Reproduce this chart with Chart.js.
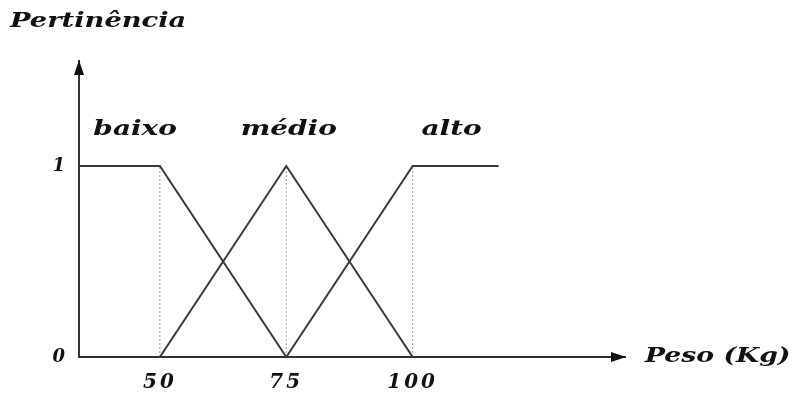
<!DOCTYPE html>
<html>
<head>
<meta charset="utf-8">
<script src="https://cdn.jsdelivr.net/npm/chart.js@4/dist/chart.umd.min.js"></script>
<style>
html,body{margin:0;padding:0;background:#fff;}
#wrap{width:792px;height:394px;position:relative;}
</style>
</head>
<body>
<div id="wrap"><canvas id="c" width="792" height="394"></canvas></div>
<script>
// Data
const xTicks = [50, 75, 100];
const yTicks = [0, 1];
const baixoX = [34, 50, 75];
const baixoY = [1, 1, 0];
const medioX = [50, 75, 100];
const medioY = [0, 1, 0];
const altoX = [75, 100, 117];
const altoY = [0, 1, 1];
const categories = ['baixo', 'médio', 'alto'];
const labelAt = [[45.1, 1.19], [75.5, 1.19], [107.7, 1.19]];
const xTitle = 'Peso (Kg)';
const yTitle = 'Pertinência';

const FONT = '"DejaVu Serif", serif';
const pts = (xs, ys) => xs.map((x, i) => ({x: x, y: ys[i]}));
const lineStyle = {borderColor: '#3a3a3a', borderWidth: 2, pointRadius: 0, fill: false, tension: 0};
const guide = x => ({data: [{x: x, y: 0}, {x: x, y: 1}], borderColor: '#9a9a9a', borderWidth: 1, borderDash: [2, 2], pointRadius: 0, fill: false});

const spacing = {
  id: 'spacing',
  beforeDraw(chart) { chart.ctx.letterSpacing = '3px'; }
};

function wideText(ctx, text, x, y, align, sx) {
  ctx.save();
  ctx.translate(x, y);
  ctx.scale(sx, 1);
  ctx.textAlign = align;
  ctx.fillText(text, 0, 0);
  ctx.restore();
}

const decor = {
  id: 'decor',
  afterDraw(chart) {
    const ctx = chart.ctx, a = chart.chartArea;
    const xs = chart.scales.x, ys = chart.scales.y;
    ctx.save();
    ctx.fillStyle = '#111';
    // arrows
    ctx.beginPath();
    ctx.moveTo(a.left, a.top - 1);
    ctx.lineTo(a.left - 5, a.top + 14);
    ctx.lineTo(a.left + 5, a.top + 14);
    ctx.closePath(); ctx.fill();
    ctx.beginPath();
    ctx.moveTo(a.right + 1, a.bottom);
    ctx.lineTo(a.right - 14, a.bottom - 5);
    ctx.lineTo(a.right - 14, a.bottom + 5);
    ctx.closePath(); ctx.fill();
    // category labels
    ctx.font = 'italic bold 21px ' + FONT;
    ctx.letterSpacing = '0px';
    ctx.textBaseline = 'middle';
    categories.forEach((c, i) => {
      wideText(ctx, c, xs.getPixelForValue(labelAt[i][0]), ys.getPixelForValue(labelAt[i][1]), 'center', 1.33);
    });
    // titles
    wideText(ctx, yTitle, 10, 22, 'left', 1.3);
    wideText(ctx, xTitle, 645, 357, 'left', 1.27);
    ctx.restore();
  }
};

new Chart(document.getElementById('c'), {
  type: 'line',
  data: {
    datasets: [
      Object.assign({data: pts(baixoX, baixoY)}, lineStyle),
      Object.assign({data: pts(medioX, medioY)}, lineStyle),
      Object.assign({data: pts(altoX, altoY)}, lineStyle),
      guide(xTicks[0]), guide(xTicks[1]), guide(xTicks[2])
    ]
  },
  options: {
    responsive: false,
    animation: false,
    devicePixelRatio: 1,
    layout: {padding: {left: 0, top: 61, right: 167, bottom: 0}},
    plugins: {legend: {display: false}, tooltip: {enabled: false}},
    scales: {
      x: {
        type: 'linear', min: 34, max: 142,
        afterFit(s) { s.height = 37; },
        afterBuildTicks(s) { s.ticks = xTicks.map(v => ({value: v})); },
        grid: {display: false, drawTicks: false},
        border: {display: true, color: '#333', width: 2},
        ticks: {padding: 14, color: '#111', font: {family: FONT, size: 20, style: 'italic', weight: 'bold'}}
      },
      y: {
        type: 'linear', min: 0, max: 1.55,
        afterFit(s) { s.width = 79; },
        afterBuildTicks(s) { s.ticks = yTicks.map(v => ({value: v})); },
        grid: {display: false, drawTicks: false},
        border: {display: true, color: '#333', width: 2},
        ticks: {padding: 11, color: '#111', font: {family: FONT, size: 18, style: 'italic', weight: 'bold'}}
      }
    }
  },
  plugins: [spacing, decor]
});
</script>
</body>
</html>
